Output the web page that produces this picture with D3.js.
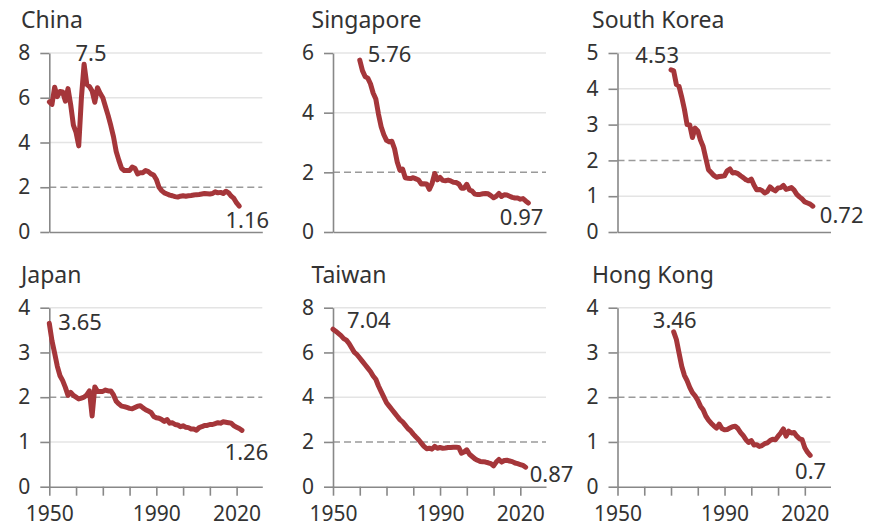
<!DOCTYPE html>
<html>
<head>
<meta charset="utf-8">
<script src="https://cdn.jsdelivr.net/npm/d3@7"></script>
<style>
  body { margin: 0; background: #fff; }
  svg text { font-family: "Noto Sans", sans-serif; fill: #333; }
  .tick text { font-size: 21px; }
  .title { font-size: 23px; }
  .val { font-size: 22px; }
</style>
</head>
<body>
<div id="grafik"></div>
<script>
// total fertility rate, one value per year from the start year
const china = [5.81, 5.70, 6.47, 6.05, 6.28, 6.26, 5.85, 6.41, 5.68, 4.78,
  4.45, 3.85, 6.0, 7.5, 6.6, 6.5, 6.3, 5.8, 6.45, 6.2,
  6.0, 5.6, 5.2, 4.75, 4.25, 3.6, 3.2, 2.85, 2.75, 2.75,
  2.75, 2.9, 2.85, 2.6, 2.65, 2.65, 2.75, 2.7, 2.6, 2.55,
  2.35, 2.0, 1.85, 1.75, 1.7, 1.65, 1.62, 1.58, 1.56, 1.6,
  1.62, 1.6, 1.62, 1.63, 1.65, 1.67, 1.68, 1.7, 1.72, 1.71,
  1.7, 1.72, 1.8, 1.75, 1.77, 1.72, 1.82, 1.75, 1.6, 1.5,
  1.3, 1.16];
const singapore = [5.76, 5.41, 5.21, 5.16, 4.97, 4.66, 4.46, 3.95, 3.53, 3.26,
  3.07, 3.02, 3.04, 2.79, 2.35, 2.07, 2.11, 1.82, 1.80, 1.79,
  1.82, 1.78, 1.74, 1.61, 1.62, 1.61, 1.43, 1.62, 1.96, 1.75,
  1.83, 1.73, 1.72, 1.74, 1.71, 1.67, 1.66, 1.61, 1.47, 1.47,
  1.60, 1.41, 1.37, 1.27, 1.26, 1.26, 1.28, 1.29, 1.28, 1.22,
  1.15, 1.20, 1.29, 1.19, 1.25, 1.24, 1.20, 1.16, 1.14, 1.14,
  1.10, 1.12, 1.04, 0.97];
const southKorea = [4.53, 4.50, 4.12, 4.07, 3.77, 3.43, 3.00, 2.99, 2.64, 2.90,
  2.82, 2.57, 2.39, 2.06, 1.74, 1.66, 1.58, 1.53, 1.55, 1.56,
  1.57, 1.71, 1.76, 1.65, 1.66, 1.63, 1.57, 1.52, 1.46, 1.43,
  1.48, 1.31, 1.18, 1.19, 1.16, 1.09, 1.13, 1.26, 1.19, 1.15,
  1.23, 1.24, 1.30, 1.19, 1.21, 1.24, 1.17, 1.05, 0.98, 0.92,
  0.84, 0.81, 0.78, 0.72];
const japan = [3.65, 3.26, 2.98, 2.69, 2.48, 2.37, 2.22, 2.04, 2.11, 2.04,
  2.00, 1.96, 1.98, 2.00, 2.05, 2.14, 1.58, 2.23, 2.13, 2.13,
  2.13, 2.16, 2.14, 2.14, 2.05, 1.91, 1.85, 1.80, 1.79, 1.77,
  1.75, 1.74, 1.77, 1.80, 1.81, 1.76, 1.72, 1.69, 1.66, 1.57,
  1.54, 1.53, 1.50, 1.46, 1.50, 1.42, 1.43, 1.39, 1.38, 1.34,
  1.36, 1.33, 1.32, 1.29, 1.29, 1.26, 1.32, 1.34, 1.37, 1.37,
  1.39, 1.39, 1.41, 1.43, 1.42, 1.45, 1.44, 1.43, 1.42, 1.36,
  1.33, 1.30, 1.26];
const taiwan = [7.04, 6.95, 6.85, 6.75, 6.62, 6.55, 6.4, 6.2, 6.0, 5.9,
  5.75, 5.6, 5.45, 5.3, 5.15, 4.95, 4.8, 4.5, 4.25, 4.0,
  3.75, 3.6, 3.45, 3.3, 3.15, 3.0, 2.9, 2.75, 2.6, 2.5,
  2.35, 2.22, 2.1, 1.95, 1.8, 1.7, 1.72, 1.68, 1.8, 1.72,
  1.75, 1.72, 1.73, 1.75, 1.75, 1.76, 1.76, 1.75, 1.5, 1.55,
  1.65, 1.45, 1.35, 1.25, 1.18, 1.13, 1.12, 1.1, 1.07, 1.03,
  0.93, 1.1, 1.22, 1.1, 1.17, 1.18, 1.15, 1.12, 1.06, 1.03,
  0.99, 0.95, 0.87];
const hongKong = [3.46, 3.29, 2.99, 2.69, 2.49, 2.37, 2.22, 2.10, 2.03,
  1.93, 1.80, 1.72, 1.58, 1.49, 1.42, 1.36, 1.31, 1.40, 1.30,
  1.27, 1.28, 1.31, 1.34, 1.35, 1.30, 1.21, 1.14, 1.05, 0.99,
  1.03, 0.93, 0.94, 0.90, 0.92, 0.96, 0.98, 1.03, 1.06, 1.05,
  1.13, 1.20, 1.29, 1.13, 1.24, 1.20, 1.21, 1.13, 1.07, 1.05,
  0.87, 0.77, 0.70];

const names = ["China", "Singapore", "South Korea", "Japan", "Taiwan", "Hong Kong"];
const series = [china, singapore, southKorea, japan, taiwan, hongKong];
const startYears = [1950, 1960, 1970, 1950, 1950, 1971];
const yMaxes = [8, 6, 5, 4, 8, 4];
const yTickSets = [[0, 2, 4, 6, 8], [0, 2, 4, 6], [0, 1, 2, 3, 4, 5],
  [0, 1, 2, 3, 4], [0, 2, 4, 6, 8], [0, 1, 2, 3, 4]];
const xTicks = [1950, 1960, 1970, 1980, 1990, 2000, 2010, 2020];
const xLabels = [1950, 1990, 2020];

// layout
const axisX = [49.3, 333, 617.5];
const titleX = [21, 311.5, 592];
const plotTop = [53, 307.7];
const plotH = 179, plotW = 213;
// label offsets: [anchor, dx, dy] for the peak label and the last label
const peakLab = [["middle", 7, -3], ["start", 8, 2], ["end", 8, -6.5],
  ["start", 9, 7], ["start", 14, -1], ["middle", 1, -4]];
const lastLab = [["middle", 8, 22], ["end", 15, 22], ["start", 7, 17],
  ["middle", 4.5, 30], ["start", 4, 15], ["end", 16, 23.5]];

const red = "#a5363a";

const svg = d3.select("#grafik").append("svg")
  .attr("width", 869).attr("height", 527);

const x = d3.scaleLinear().domain([1950, 2029.6]).range([0, plotW]);

series.forEach((vals, i) => {
  const col = i % 3, row = Math.floor(i / 3);
  const data = vals.map((v, k) => ({year: startYears[i] + k, value: v}));
  const y = d3.scaleLinear().domain([0, yMaxes[i]]).range([plotH, 0]);

  svg.append("text")
    .attr("class", "title")
    .attr("x", titleX[col])
    .attr("y", plotTop[row] - 25)
    .text(names[i]);

  const g = svg.append("g")
    .attr("transform", `translate(${axisX[col]},${plotTop[row]})`);

  // gridlines, dashed at replacement level 2
  g.selectAll("line.grid")
    .data(yTickSets[i].filter(t => t > 0))
    .join("line")
    .attr("class", "grid")
    .attr("x1", 0).attr("x2", plotW)
    .attr("y1", d => y(d)).attr("y2", d => y(d))
    .attr("stroke", d => d === 2 ? "#9a9a9a" : "#e4e4e4")
    .attr("stroke-width", 1.5)
    .attr("stroke-dasharray", d => d === 2 ? "7,4" : null);

  const xa = g.append("g")
    .attr("transform", `translate(0,${plotH})`)
    .attr("color", "#888")
    .call(d3.axisBottom(x)
      .tickValues(xTicks)
      .tickSize(row === 1 ? 9 : 0)
      .tickSizeOuter(0)
      .tickPadding(10)
      .tickFormat(d => row === 1 && xLabels.includes(d) ? d : ""));
  xa.selectAll("path, line").attr("stroke-width", 1.6);

  const ya = g.append("g")
    .attr("color", "#888")
    .call(d3.axisLeft(y)
      .tickValues(yTickSets[i])
      .tickSize(9)
      .tickSizeOuter(0)
      .tickPadding(10)
      .tickFormat(d3.format("d")));
  ya.selectAll("path, line").attr("stroke-width", 1.6);

  const line = d3.line()
    .x(d => x(d.year))
    .y(d => y(d.value));

  g.append("path")
    .datum(data)
    .attr("fill", "none")
    .attr("stroke", red)
    .attr("stroke-width", 5)
    .attr("stroke-linejoin", "round")
    .attr("stroke-linecap", "round")
    .attr("d", line);

  const peak = data.reduce((a, b) => b.value > a.value ? b : a);
  const last = data[data.length - 1];
  [[peak, peakLab[i]], [last, lastLab[i]]].forEach(([p, lab]) => {
    g.append("text")
      .attr("class", "val")
      .attr("text-anchor", lab[0])
      .attr("x", x(p.year) + lab[1])
      .attr("y", y(p.value) + lab[2])
      .text(String(p.value));
  });
});
</script>
</body>
</html>
